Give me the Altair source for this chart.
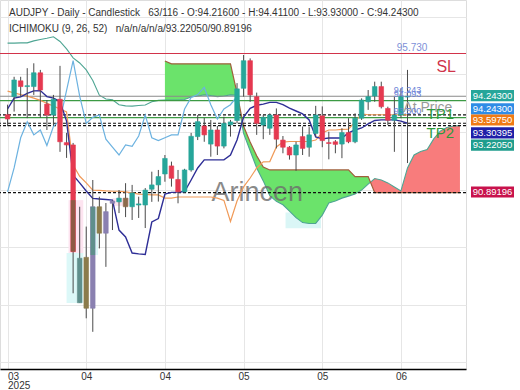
import altair as alt
import pandas as pd

W, H = 466, 369
FONT = "Liberation Sans"

# ---------------- candles (index, open, high, low, close) ----------------
opens = [93.60, 94.23, 94.78, 94.58, 94.58, 95.06, 93.97, 93.59, 94.14, 92.63,
         92.55, 87.06, 88.64, 86.87, 90.40, 89.48, 90.52, 90.57, 90.70, 90.40,
         90.46, 90.46, 91.01, 91.16, 91.54, 91.82, 91.35, 90.92, 91.68, 92.84,
         93.21, 92.58, 93.07, 92.51, 93.25, 93.40, 94.52, 95.48, 94.23, 93.24,
         93.13, 93.59, 92.72, 92.47, 92.20, 92.84, 92.47, 92.95, 93.56, 92.63,
         92.66, 92.58, 92.98, 92.66, 93.48, 94.05, 94.25, 94.58, 93.82, 93.41,
         93.59, 94.216]
highs = [93.95, 94.92, 94.92, 95.22, 95.39, 95.16, 94.11, 94.29, 95.30, 92.97,
         92.62, 90.40, 89.71, 91.33, 90.75, 90.53, 90.62, 90.98, 91.22, 91.16,
         90.75, 91.05, 91.62, 91.68, 92.20, 91.97, 91.68, 91.72, 92.97, 93.59,
         93.49, 93.42, 93.21, 93.53, 93.42, 94.70, 95.68, 95.56, 94.37, 93.59,
         93.65, 93.82, 92.86, 92.51, 92.66, 93.19, 93.17, 93.91, 93.89, 93.01,
         92.72, 93.13, 93.48, 93.65, 94.17, 94.46, 94.75, 94.75, 93.88, 94.23,
         94.52, 95.16]
lows = [93.20, 93.71, 94.23, 93.48, 94.29, 93.49, 93.07, 93.24, 92.31, 92.10,
        87.39, 87.06, 86.52, 86.05, 88.95, 88.31, 89.59, 90.18, 90.04, 89.94,
        90.01, 89.66, 90.57, 90.58, 91.27, 91.10, 90.52, 90.90, 91.62, 92.72,
        92.66, 92.14, 92.20, 92.43, 92.84, 93.30, 94.23, 94.05, 92.90, 92.75,
        92.90, 92.43, 92.26, 92.04, 91.65, 92.20, 92.14, 92.84, 92.47, 92.05,
        92.26, 92.09, 92.61, 92.61, 93.42, 93.77, 94.05, 93.82, 93.24, 92.31,
        93.48, 91.92]
closes = [93.45, 94.81, 94.58, 94.61, 95.06, 94.46, 93.59, 94.14, 92.66, 92.55,
          88.84, 88.61, 86.87, 90.40, 89.48, 90.23, 90.60, 90.70, 90.40, 90.88,
          90.50, 90.98, 91.16, 91.45, 92.08, 91.39, 90.92, 91.68, 92.85, 93.36,
          92.90, 93.07, 92.51, 93.30, 93.35, 94.50, 95.48, 94.29, 93.30, 93.51,
          93.59, 92.75, 92.47, 92.20, 92.55, 92.43, 92.90, 93.59, 92.70, 92.60,
          92.57, 92.98, 92.66, 93.48, 94.11, 94.23, 94.58, 93.88, 93.41, 93.59,
          94.23, 94.243]
# muted body colours of the candles inside the highlighted crash zone
special_colors = {11: "#5f8f8c", 12: "#8b7b4b", 13: "#8a80b0", 14: "#8b7b4b",
                  15: "#8a80b0", 16: "#8a80b0", 18: "#8b6a4b"}
# body parts re-tinted by the highlight (index, low, high, colour)
tint_idx = [10, 13]
tint_lo = [88.84, 88.72]
tint_hi = [90.63, 90.40]
tint_col = ["#8e5a44", "#5f8f8c"]

# ---------------- Ichimoku ----------------
tenkan = [93.80, 94.18, 94.22, 94.34, 94.43, 94.44, 94.23, 94.18, 94.06, 93.38,
          91.50, 91.23, 90.95, 90.69, 90.67, 90.65, 90.63, 89.59, 89.35, 88.79,
          88.76, 88.74, 89.87, 89.99, 90.84, 90.90, 90.91, 90.93, 91.33, 91.75,
          92.03, 92.03, 92.03, 92.03, 92.20, 92.72, 93.52, 93.82, 93.93, 93.97,
          94.03, 94.03, 93.95, 93.83, 93.73, 93.63, 93.42, 92.83, 92.76, 92.79,
          92.79, 92.79, 92.97, 93.07, 93.14, 93.28, 93.40, 93.42, 93.42, 93.42,
          93.38, 93.30395]
kijun = [94.42, 94.36, 94.30, 94.25, 94.18, 94.10, 94.00, 93.90, 93.80, 93.70,
         91.85, 91.46, 91.23, 90.98, 90.97, 90.95, 90.94, 90.94, 90.92, 90.88,
         90.84, 90.83, 90.81, 90.81, 90.70, 90.70, 90.74, 90.74, 90.74, 90.74,
         90.74, 90.74, 90.70, 90.62, 89.89, 90.60, 91.09, 91.40, 91.75, 91.96,
         91.97, 92.48, 92.65, 92.67, 92.67, 92.67, 92.67, 92.72, 92.97, 93.07,
         93.07, 93.09, 93.10, 93.35, 93.63, 93.60, 93.60, 93.60, 93.60, 93.60,
         93.60, 93.5975]
chikou = [90.92, 91.75, 92.80, 93.36, 92.90, 93.07, 92.53, 93.20, 93.40, 94.45,
          95.48, 94.25, 93.30, 93.51, 93.59, 92.75, 92.47, 92.20, 92.55, 92.50,
          92.86, 93.59, 92.80, 92.70, 92.80, 92.90, 92.90, 93.80, 94.20, 94.30,
          94.55, 93.95, 93.45, 93.80, 93.95, 94.243]
span_a = [96.09, 96.09, 96.10, 96.10, 96.17, 96.22, 96.26, 96.31, 96.15, 95.89,
          95.58, 95.40, 95.16, 94.79, 94.28, 94.15, 94.12, 93.95, 93.91, 93.90,
          93.92, 93.94, 94.05, 94.10, 94.11, 94.11, 94.11, 94.13, 94.22, 94.25,
          94.29, 94.27, 94.23, 94.25, 94.29, 94.28, 92.95, 92.35, 91.75, 91.30,
          90.79, 90.59, 90.47, 90.25, 90.02, 89.85, 89.82, 89.82, 90.11, 90.53,
          90.60, 90.70, 90.77, 90.84, 90.98, 91.19, 91.38, 91.33, 91.23, 91.09,
          90.95, 91.75, 92.20, 92.32, 92.39, 92.76, 93.03, 93.16, 93.21, 93.2205]
span_b_start = 24
span_b = [95.47, 95.37, 95.37, 95.37, 95.37, 95.37, 95.37, 95.37, 95.37, 95.37,
          95.37, 94.35, 93.20, 92.65, 92.17, 91.78, 91.68, 91.68, 91.68, 91.68,
          91.68, 91.68, 91.68, 91.68, 91.68, 91.68, 91.68, 91.68, 91.68, 91.45,
          91.45, 91.45, 90.89196, 90.89196, 90.89196, 90.89196, 90.89196, 90.89196,
          90.89196, 90.89196, 90.89196, 90.89196, 90.89196, 90.89196, 90.89196,
          90.89196]

# pale highlight zones (index from, index to, price low, price high, colour)
zone_x1 = [9.3, 9.0, 12.75, 16.0, 42.4]
zone_x2 = [11.55, 11.55, 13.8, 19.0, 47.8]
zone_lo = [88.79, 87.05, 88.72, 90.43, 89.65]
zone_hi = [90.63, 88.79, 90.39, 90.70, 90.20]
zone_col = ["#fde4f0", "#dcf8f8", "#dcf8f8", "#fde4f0", "#daf6f6"]

# horizontal levels
solid_prices = [95.73, 94.243, 94.09, 93.50]
solid_colors = ["#d2334a", "#8a8a8a", "#3c9a44", "#3c9a44"]
dashed_prices = [93.5975, 93.30395, 93.2205, 90.89196]

# right-hand price tags (text, colour, price, vertical shift in px)
tag_text = ["94.24300", "94.24300", "93.59750", "93.30395", "93.22050", "90.89196"]
tag_col = ["#26a69a", "#2f8ce6", "#f07a14", "#1f1fa8", "#1f9d8d", "#c8124c"]
tag_price = [94.243, 94.243, 93.5975, 93.30395, 93.2205, 90.89196]
tag_shift = [-0.6, 12.6, 5.2, 9.6, 19.5, -0.6]

# price ticks shown on the right axis (93 and 94 sit under the tags)
y_ticks = [85, 86, 87, 88, 89, 90, 91, 92, 95, 96, 97]
tick_vals = [0, 12, 24, 36, 48, 60]
header1 = ("AUDJPY - Daily - Candlestick\u00a0\u00a0\u00a063/116 - O:94.21600 - "
           "H:94.41100 - L:93.93000 - C:94.24300")
header2 = "ICHIMOKU (9, 26, 52)\u00a0\u00a0\u00a0n/a/n/a/n/a/93.22050/90.89196"

# ---------------- tables ----------------
n = len(opens)
cand = pd.DataFrame({"idx": list(range(n)), "o": opens, "h": highs, "l": lows, "c": closes})
cand["col"] = [special_colors.get(i, "#26a69a" if closes[i] >= opens[i] else "#e53950")
               for i in range(n)]
tints = pd.DataFrame({"idx": tint_idx, "o": tint_lo, "c": tint_hi, "col": tint_col})
lines_df = pd.DataFrame({"idx": list(range(n)), "tenkan": tenkan, "kijun": kijun})
chik_df = pd.DataFrame({"idx": list(range(len(chikou))), "v": chikou})
a_df = pd.DataFrame({"idx": list(range(len(span_a))), "v": span_a})
b_df = pd.DataFrame({"idx": list(range(span_b_start, span_b_start + len(span_b))), "v": span_b})
one = pd.DataFrame({"k": [0]})

rows = []
for k, b in enumerate(span_b):
    i = span_b_start + k
    a = span_a[i]
    if k > 0:
        pa, pb = span_a[i - 1], span_b[k - 1]
        d0, d1 = pb - pa, b - a
        if d0 * d1 < 0:
            t = d0 / (d0 - d1)
            yi = pa + t * (a - pa)
            rows.append({"idx": i - 1 + t, "a": yi, "b": yi})
    rows.append({"idx": i, "a": a, "b": b})
cloud = pd.DataFrame(rows)
cloud["lo"] = cloud[["a", "b"]].min(axis=1)

zones = pd.DataFrame({"x1": zone_x1, "x2": zone_x2, "lo": zone_lo, "hi": zone_hi, "col": zone_col})
solid_df = pd.DataFrame({"p": solid_prices, "col": solid_colors})
dash_df = pd.DataFrame({"p": dashed_prices})

# ---------------- scales / axes ----------------
xs = alt.Scale(domain=[-0.39, 69.16], nice=False, zero=False)
ys = alt.Scale(domain=[84.757, 97.591], nice=False, zero=False)
label_expr = ("datum.value == 0 ? ['\u00a0\u00a003', '2025'] : datum.value == 12 ? '04' : "
              "datum.value == 24 ? '04' : datum.value == 36 ? '05' : "
              "datum.value == 48 ? '05' : '06'")
xaxis = alt.Axis(values=tick_vals, labelExpr=label_expr, ticks=False, labelPadding=2,
                 labelFontSize=10, labelFont=FONT, labelColor="#333", labelLineHeight=9,
                 labelAlign={"condition": {"test": "datum.value == 0", "value": "left"},
                             "value": "center"},
                 domainColor="#000", domainWidth=1.3, gridColor="#e6e6e6", title=None)
yaxis = alt.Axis(orient="right", values=y_ticks, format=".5f", ticks=False,
                 labelPadding=9, labelFontSize=10, labelFont=FONT, labelColor="#333",
                 domainColor="#000", domainWidth=1.3, gridColor="#e6e6e6", title=None)
ygrid = alt.Axis(orient="right", values=list(range(85, 98)), labels=False, ticks=False,
                 domain=False, gridColor="#e6e6e6", title=None)


def X(f):
    return alt.X(f, type="quantitative", scale=xs, axis=xaxis)


def Y(f):
    return alt.Y(f, type="quantitative", scale=ys, axis=yaxis)


layers = []
# grid lines for every whole price
layers.append(alt.Chart(one).mark_rule(opacity=0).encode(
    y=alt.Y("k", type="quantitative", scale=ys, axis=ygrid)))
# pale zones
layers.append(alt.Chart(zones).mark_rect().encode(
    x=X("x1"), x2="x2", y=Y("lo"), y2="hi", color=alt.Color("col:N", scale=None)))
# cloud
layers.append(alt.Chart(cloud).mark_area(color="#6be36b").encode(x=X("idx"), y=Y("b"), y2="lo"))
layers.append(alt.Chart(cloud).mark_area(color="#f87c7c").encode(x=X("idx"), y=Y("a"), y2="lo"))
layers.append(alt.Chart(a_df).mark_line(color="#4ea593", strokeWidth=1.1).encode(x=X("idx"), y=Y("v")))
layers.append(alt.Chart(b_df).mark_line(color="#a0603c", strokeWidth=1.2).encode(x=X("idx"), y=Y("v")))
# watermark
layers.append(alt.Chart(one).mark_text(text="Arincen", font=FONT, fontSize=27, color="#6e6e6e",
                                       opacity=0.8, baseline="middle").encode(
    x=alt.datum(38.1), y=alt.datum(90.88)))
# level lines
layers.append(alt.Chart(solid_df).mark_rule(strokeWidth=1.2).encode(
    y=Y("p"), color=alt.Color("col:N", scale=None)))
layers.append(alt.Chart(dash_df).mark_rule(color="#111", strokeWidth=1.2, strokeDash=[3, 2]).encode(
    y=Y("p")))
# indicator lines
layers.append(alt.Chart(chik_df).mark_line(color="#6cb2e0", strokeWidth=1.2).encode(x=X("idx"), y=Y("v")))
layers.append(alt.Chart(lines_df).mark_line(color="#f09a58", strokeWidth=1.2).encode(x=X("idx"), y=Y("kijun")))
layers.append(alt.Chart(lines_df).mark_line(color="#2e2e96", strokeWidth=1.4).encode(x=X("idx"), y=Y("tenkan")))
# candles
layers.append(alt.Chart(cand).mark_rule(color="#4a4a4a", strokeWidth=1).encode(
    x=X("idx"), y=Y("l"), y2="h"))
layers.append(alt.Chart(cand).mark_bar(size=4.6, strokeWidth=0.6).encode(
    x=X("idx"), y=Y("o"), y2="c", color=alt.Color("col:N", scale=None),
    stroke=alt.Stroke("col:N", scale=None)))
layers.append(alt.Chart(tints).mark_bar(size=4.6).encode(
    x=X("idx"), y=Y("o"), y2="c", color=alt.Color("col:N", scale=None)))


# annotation texts
def note(txt, xi, price, dy, size, color, opacity=1.0):
    return alt.Chart(one).mark_text(text=txt, font=FONT, fontSize=size, color=color,
                                    dy=dy, baseline="middle", align="center",
                                    opacity=opacity).encode(
        x=alt.datum(xi), y=alt.datum(price))


layers.append(note("95.730", 61.7, 95.73, -6, 10, "#7d8fd8"))
layers.append(note("SL", 66.9, 95.73, 13, 16, "#d0344a"))
layers.append(note("At Price", 64.1, 94.09, 7, 14, "#9a9a9a"))
layers.append(note("94.243", 61.0, 94.243, -6, 9, "#6a82d6"))
layers.append(note("94.093", 61.0, 94.09, -7, 9, "#6a82d6"))
layers.append(note("93.500", 61.0, 93.50, -6.5, 9, "#6a82d6"))
layers.append(note("TP1", 66.0, 93.50, -4, 15, "#2e9a3e"))
layers.append(note("TP2", 66.0, 93.2205, 7.5, 15, "#2e9a3e"))

# header
layers.append(alt.Chart(one).mark_text(text=header1, font=FONT, fontSize=10, color="#333",
                                       align="left", baseline="alphabetic").encode(
    x=alt.value(9), y=alt.value(15.5)))
layers.append(alt.Chart(one).mark_text(text=header2, font=FONT, fontSize=10, color="#333",
                                       align="left", baseline="alphabetic").encode(
    x=alt.value(9), y=alt.value(32)))

# right price tags
for t, c, p, s in zip(tag_text, tag_col, tag_price, tag_shift):
    layers.append(alt.Chart(one).mark_rect(color=c, yOffset=s - 5.6, y2Offset=s + 5.6).encode(
        x=alt.value(W + 5), x2=alt.value(W + 48), y=alt.datum(p), y2=alt.datum(p)))
    layers.append(alt.Chart(one).mark_text(text=t, font=FONT, fontSize=9.5, color="white",
                                           dy=s, baseline="middle", align="center").encode(
        x=alt.value(W + 26.5), y=alt.datum(p)))

chart = alt.layer(*layers).properties(
    width=W, height=H,
    padding={"left": 0, "top": 0, "right": 54, "bottom": 21},
    autosize=alt.AutoSizeParams(type="none"),
).resolve_axis(y="shared").configure_view(stroke=None).configure(background="white")

chart.save("out.html", embed_options={"renderer": "svg", "actions": False})
